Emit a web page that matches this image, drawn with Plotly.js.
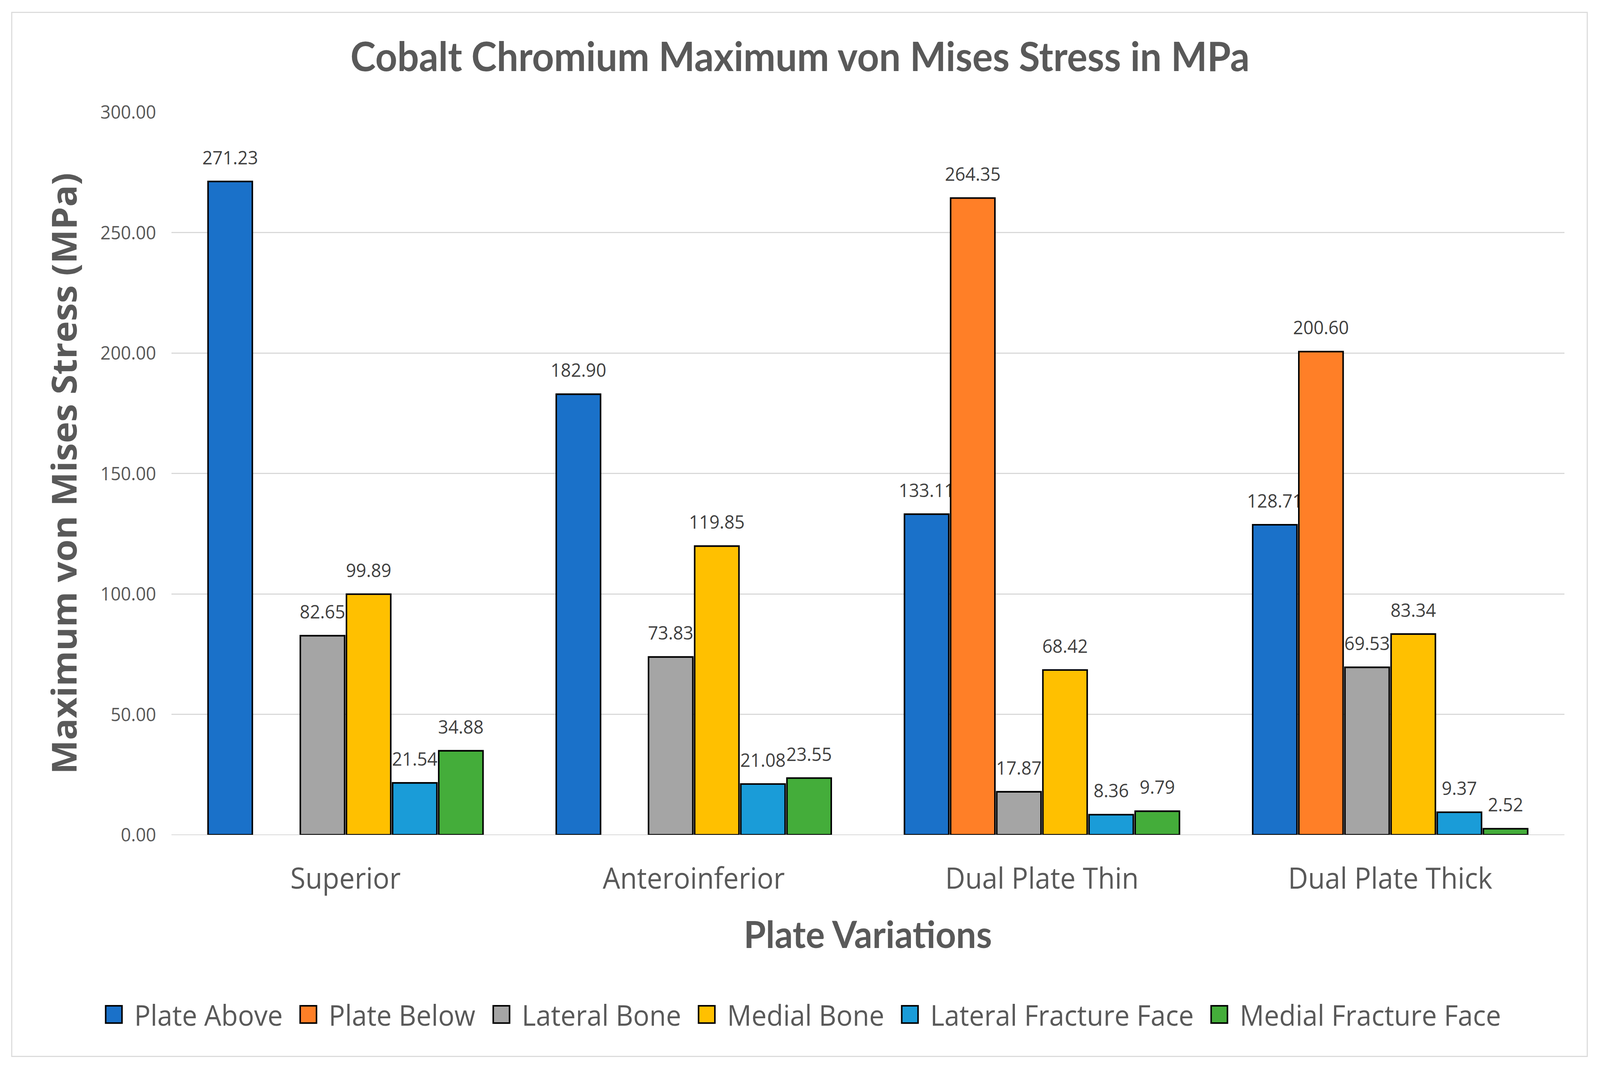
<!DOCTYPE html>
<html>
<head>
<meta charset="utf-8">
<script src="https://cdn.plot.ly/plotly-3.0.1.min.js"></script>
<style>
  html, body { margin: 0; padding: 0; background: #fff; overflow: hidden; width: 100%; height: 100%; }
  #wrap { position: absolute; left: 0; top: 0; width: 1568px; height: 993px; transform-origin: 0 0; }
  #frame { position: absolute; left: 11px; top: 11px; width: 1545px; height: 969px;
           border: 1.2px solid #d9d9d9; box-sizing: border-box; pointer-events: none; }
  #plotDiv { position: absolute; left: 0; top: 0; width: 1568px; height: 993px; }
</style>
</head>
<body>
<div id="wrap">
  <div id="plotDiv"></div>
  <div id="frame"></div>
</div>
<script>
// plate variations on the x axis
const categories = ['Superior', 'Anteroinferior', 'Dual Plate Thin', 'Dual Plate Thick']

// maximum von Mises stress (MPa), one array per region
const plateAbove          = [271.23, 182.90, 133.11, 128.71]
const plateBelow          = [null,   null,   264.35, 200.60]
const lateralBone         = [82.65,  73.83,  17.87,  69.53]
const medialBone          = [99.89,  119.85, 68.42,  83.34]
const lateralFractureFace = [21.54,  21.08,  8.36,   9.37]
const medialFractureFace  = [34.88,  23.55,  9.79,   2.52]

const seriesNames  = ['Plate Above', 'Plate Below', 'Lateral Bone', 'Medial Bone',
                      'Lateral Fracture Face', 'Medial Fracture Face']
const seriesValues = [plateAbove, plateBelow, lateralBone, medialBone,
                      lateralFractureFace, medialFractureFace]
const seriesColors = ['#1a71c9', '#ff7f27', '#a5a5a5', '#ffc000', '#1a9cd8', '#44ad3a']

const yTicks = [0, 50, 100, 150, 200, 250, 300]

const labelFont = 'Open Sans, sans-serif'
const boldFont  = 'Lato, Open Sans, sans-serif'

const bars = seriesValues.map((vals, i) => ({
	type: 'bar',
	name: seriesNames[i],
	x: categories,
	y: vals,
	marker: {color: seriesColors[i], line: {color: '#000', width: 1.5}},
	// small second line lifts the label a little off the bar top
	texttemplate: '<span style="font-size:17.5px">%{y:.2f}</span><br><span style="font-size:1px">\u00a0</span>',
	textposition: 'outside',
	constraintext: 'none',
	cliponaxis: false,
	textfont: {family: labelFont, size: 10, color: '#404040'},
	showlegend: false,
	hoverinfo: 'skip'
}))

// legend-only traces so the swatches can be larger than the bar default
const swatches = seriesNames.map((name, i) => ({
	type: 'scatter',
	mode: 'markers',
	name: name,
	x: [null],
	y: [null],
	marker: {symbol: 'square', size: 16, color: seriesColors[i], line: {color: '#000', width: 1.5}},
	hoverinfo: 'skip'
}))

const layout = {
	width: 1568,
	height: 993,
	margin: {l: 168, r: 35, t: 104, b: 219},
	paper_bgcolor: '#fff',
	plot_bgcolor: '#fff',
	barmode: 'group',
	bargap: 0.205,
	bargroupgap: 0.04,
	title: {
		text: 'Cobalt Chromium Maximum von Mises Stress in MPa',
		font: {family: boldFont, size: 37.5, color: '#595959', weight: 'bold'},
		x: 0.5, xref: 'container', xanchor: 'center',
		y: 0.947, yref: 'container', yanchor: 'middle'
	},
	xaxis: {
		type: 'category',
		showgrid: false,
		zeroline: false,
		showline: false,
		ticks: '',
		ticklabelstandoff: 22,
		tickfont: {family: labelFont, size: 27, color: '#595959'},
		title: {
			text: 'Plate Variations',
			font: {family: boldFont, size: 35, color: '#595959', weight: 'bold'},
			standoff: 23
		},
		fixedrange: true
	},
	yaxis: {
		range: [0, 300],
		tickvals: yTicks,
		tickformat: '.2f',
		showgrid: true,
		gridcolor: '#d9d9d9',
		gridwidth: 1,
		zeroline: true,
		zerolinecolor: '#d9d9d9',
		zerolinewidth: 1,
		showline: false,
		ticks: '',
		ticklabelstandoff: 14,
		tickfont: {family: labelFont, size: 17.5, color: '#595959'},
		title: {
			text: 'Maximum von Mises Stress (MPa)',
			font: {family: labelFont, size: 33.5, color: '#595959', weight: 'bold'},
			standoff: 12
		},
		fixedrange: true
	},
	legend: {
		orientation: 'h',
		x: -0.056, xref: 'paper', xanchor: 'left',
		y: -0.249, yref: 'paper', yanchor: 'middle',
		font: {family: labelFont, size: 26.5, color: '#595959'},
		bgcolor: 'rgba(0,0,0,0)'
	}
}

const config = {displayModeBar: false, staticPlot: true}

// stretch the 1568x993 design over the whole window
const fitToWindow = () => {
	const sx = window.innerWidth / 1568
	const sy = window.innerHeight / 993
	document.getElementById('wrap').style.transform = `scale(${sx}, ${sy})`
}

document.addEventListener('DOMContentLoaded', function() {
	fitToWindow()
	Plotly.newPlot('plotDiv', bars.concat(swatches), layout, config)
})
</script>
</body>
</html>
